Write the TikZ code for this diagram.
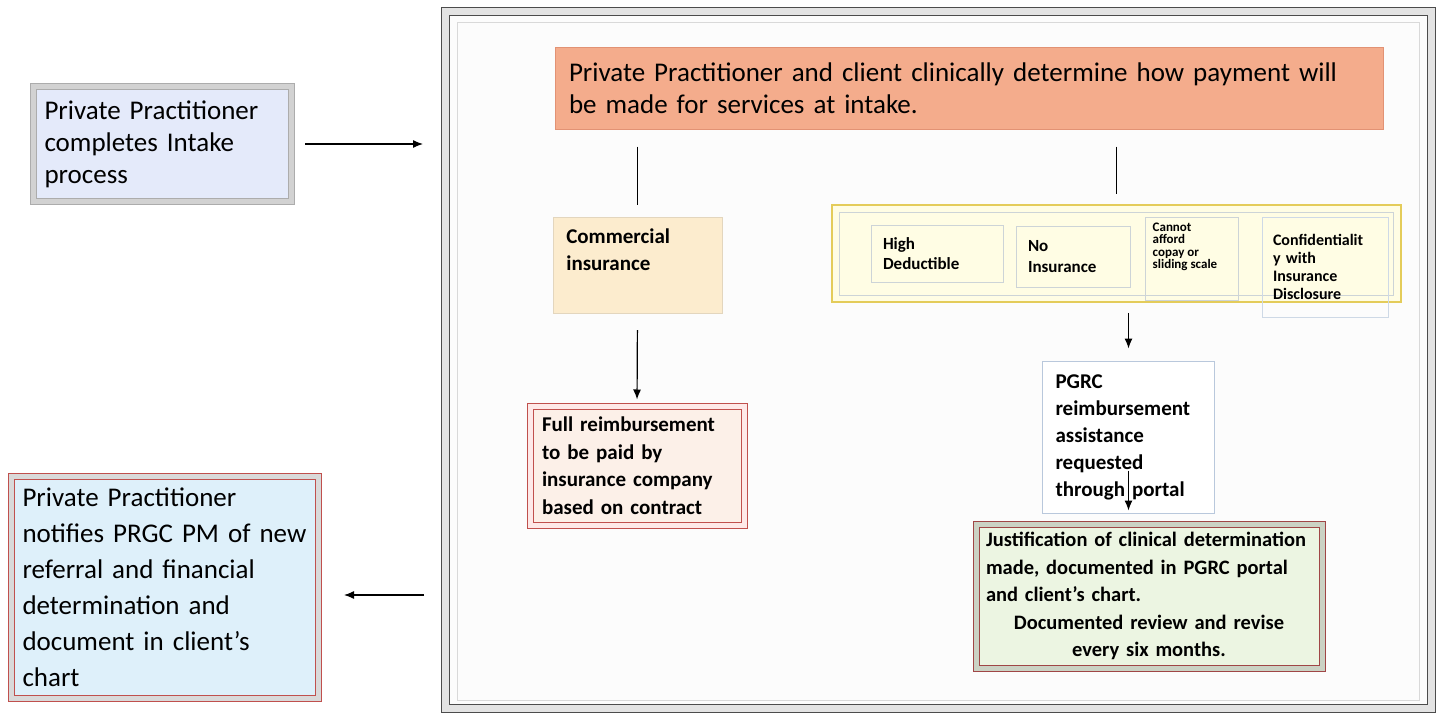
\documentclass[tikz,border=0pt]{standalone}
\usepackage{fontspec}
\setmainfont{Carlito}
\usetikzlibrary{arrows.meta}

\definecolor{intakeblue}{RGB}{228,234,250}
\definecolor{notifyblue}{RGB}{222,240,250}
\definecolor{salmon}{RGB}{244,172,140}
\definecolor{salmonline}{RGB}{226,146,116}
\definecolor{beige}{RGB}{252,236,206}
\definecolor{peach}{RGB}{252,240,232}
\definecolor{redline}{RGB}{192,80,77}
\definecolor{darkred}{RGB}{160,70,70}
\definecolor{paleyellow}{RGB}{255,253,228}
\definecolor{goldline}{RGB}{228,204,90}
\definecolor{greyline}{RGB}{205,212,215}
\definecolor{blueline}{RGB}{185,200,220}
\definecolor{palegreen}{RGB}{236,245,226}

\tikzset{
  box/.style={align=left, inner ysep=0pt},
  bevel/.style={draw=gray!65, line width=1.2pt, double=gray!35, double distance=5pt},
  redbevel/.style={draw=redline, line width=1pt, double=gray!30, double distance=5pt},
  link/.style={line width=1.2pt},
  arr/.style={line width=1.2pt, -{Latex[length=10pt,width=8pt]}},
  bold/.style={font=\bfseries\fontsize{21}{27}\selectfont},
}

\begin{document}
\begin{tikzpicture}[x=1pt, y=-1pt]

  \useasboundingbox (0,0) rectangle (1441,715);

  % Frame round the payment steps
  \node[draw=gray!60!black, line width=1pt, double=gray!22, double distance=7pt,
        fill=gray!2, minimum width=986, minimum height=697] (frame) at (938.5,360) {};
  \draw[gray!30, line width=1pt] ([shift={(12,11)}]frame.north west) rectangle ([shift={(-13,-9)}]frame.south east);

  % Left side
  \node[box, bevel, fill=intakeblue, minimum width=258, minimum height=115,
        text width=236, inner xsep=11, font=\fontsize{27}{32}\selectfont]
        (intake) at (162.5,144) {Private Practitioner\\completes Intake\\process};
  \node[box, redbevel, fill=notifyblue, minimum width=307, minimum height=222,
        text width=285, inner xsep=11, font=\fontsize{27}{36}\selectfont]
        (notify) at (165,587.5) {Private Practitioner\\notifies PRGC PM of new\\referral and financial\\determination and\\document in client’s\\chart};

  % Clinical determination
  \node[box, fill=salmon, draw=salmonline, line width=1pt, minimum width=828, minimum height=82,
        text width=800, inner xsep=14, font=\fontsize{27}{32}\selectfont]
        (top) at (969,88) {Private Practitioner and client clinically determine how payment will\\be made for services at intake.};

  % Commercial insurance branch
  \node[fill=beige, draw=beige!80!gray, minimum width=169, minimum height=96] (comm) at (637.5,265) {};
  \node[box, bold, anchor=north west] (commtxt) at ([shift={(10,12)}]comm.north west) {Commercial\\insurance};
  \node[box, redbevel, double=peach!70!red!25, fill=peach, minimum width=214, minimum height=119,
        text width=190, inner xsep=12, font=\bfseries\fontsize{21}{27.5}\selectfont]
        (full) at (637,465.5) {Full reimbursement\\to be paid by\\insurance company\\based on contract};

  % Reasons for assistance
  \node[fill=paleyellow, draw=goldline, line width=1.5pt, minimum width=569, minimum height=97] (yel) at (1116.5,253.5) {};
  \draw[greyline, line width=1pt] ([shift={(8,8)}]yel.north west) rectangle ([shift={(-8,-7)}]yel.south east);
  \node[box, draw=greyline, line width=1pt, minimum width=132, minimum height=57, text width=108, inner xsep=12,
        font=\bfseries\fontsize{17}{20}\selectfont] (high) at (937,253.5) {High\\Deductible};
  \node[box, draw=greyline, line width=1pt, minimum width=114, minimum height=61, text width=90, inner xsep=12,
        font=\bfseries\fontsize{17}{21}\selectfont] (noins) at (1073,256.5) {No\\Insurance};
  \node[draw=greyline, line width=1pt, minimum width=93, minimum height=83] (afford) at (1191.5,258.5) {};
  \node[box, anchor=north west, inner xsep=0pt, font=\bfseries\fontsize{13}{12.5}\selectfont]
        (affordtxt) at ([shift={(8,6)}]afford.north west) {Cannot\\afford\\copay or\\sliding scale};
  \node[box, draw=blueline!70, line width=1pt, minimum width=126, minimum height=100, text width=104, inner xsep=11,
        font=\bfseries\fontsize{16}{18}\selectfont] (conf) at (1325,267) {Confidentialit\\y with\\Insurance\\Disclosure};

  % Assistance through portal
  \node[box, draw=blueline, line width=1pt, fill=white, minimum width=172, minimum height=152,
        text width=146, inner xsep=13, bold] (pgrc) at (1128.5,437)
        {PGRC\\reimbursement\\assistance\\requested\\through portal};
  \node[box, redbevel, draw=darkred, double=palegreen!70!gray, fill=palegreen, minimum width=346, minimum height=144,
        text width=326, inner xsep=10, font=\bfseries\fontsize{20.5}{27.5}\selectfont] (just) at (1149,596)
        {Justification of clinical determination\\made, documented in PGRC portal\\and client’s chart.\\
         \makebox[326pt]{Documented review and revise}\\\makebox[326pt]{every six months.}};

  % Connectors
  \draw[arr, shorten <=13pt, shorten >=22pt] (intake.east) -- (intake.east -| frame.west);
  \draw[arr, shorten <=21pt, shorten >=25pt] ([yshift=-7.5pt]frame.west |- notify.east) -- ([yshift=-7.5pt]notify.east);
  \draw[link, shorten <=17pt, shorten >=12pt] (top.south -| comm.north) -- (comm.north);
  \draw[link, shorten <=17pt, shorten >=10pt] (top.south -| yel.north) -- (yel.north);
  \draw[arr, shorten <=17pt, shorten >=6pt] (comm.south) -- (full.north);
  \draw[arr, shorten <=10pt, shorten >=12pt] (yel.south -| pgrc.north) -- (pgrc.north);
  \draw[arr, shorten >=13pt] ([yshift=43pt]pgrc.south) -- (pgrc.south |- just.north);

\end{tikzpicture}
\end{document}
